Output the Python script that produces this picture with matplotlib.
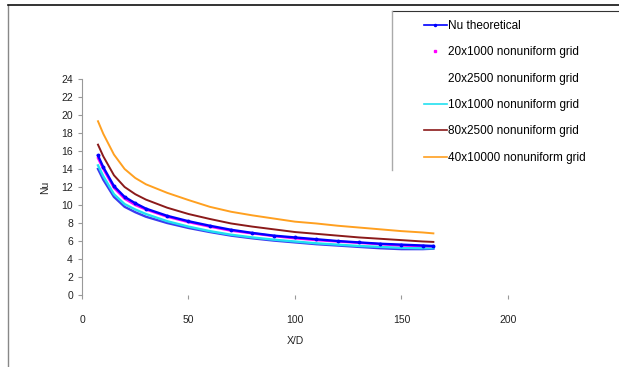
import matplotlib
matplotlib.use("Agg")
import matplotlib.pyplot as plt
from matplotlib.lines import Line2D

plt.rcParams['font.family'] = ['Liberation Sans', 'DejaVu Sans']

x_d = [7.5, 10, 15, 20, 25, 30, 40, 50, 60, 70, 80, 90, 100, 110, 120, 130, 140, 150, 160, 165]

nu_theoretical = [15.5, 14.2, 12.1, 10.9, 10.2, 9.6, 8.8, 8.2, 7.7, 7.25, 6.9, 6.6, 6.4, 6.2, 6.0, 5.85, 5.7, 5.6, 5.5, 5.45]
grid_20x1000 = [15.2, 14.0, 11.9, 10.7, 10.0, 9.5, 8.7, 8.1, 7.6, 7.15, 6.85, 6.55, 6.3, 6.1, 5.95, 5.8, 5.65, 5.5, 5.45, 5.4]
grid_20x2500 = [14.0, 12.8, 10.9, 9.8, 9.2, 8.7, 8.0, 7.45, 7.0, 6.6, 6.3, 6.05, 5.85, 5.65, 5.5, 5.35, 5.2, 5.1, 5.1, 5.15]
grid_10x1000 = [14.4, 13.2, 11.2, 10.1, 9.5, 9.0, 8.2, 7.6, 7.1, 6.7, 6.4, 6.15, 5.95, 5.75, 5.6, 5.45, 5.35, 5.25, 5.2, 5.2]
grid_80x2500 = [16.7, 15.4, 13.3, 12.0, 11.2, 10.6, 9.7, 9.0, 8.45, 7.95, 7.6, 7.3, 7.0, 6.8, 6.6, 6.4, 6.25, 6.1, 5.95, 5.9]
grid_40x10000 = [19.3, 17.9, 15.6, 14.0, 13.0, 12.3, 11.35, 10.55, 9.8, 9.25, 8.85, 8.5, 8.15, 7.95, 7.7, 7.5, 7.3, 7.1, 6.95, 6.85]

labels = ["Nu theoretical", "20x1000 nonuniform grid", "20x2500 nonuniform grid",
          "10x1000 nonuniform grid", "80x2500 nonuniform grid", "40x10000 nonuniform grid"]
x_ticks = [0, 50, 100, 150, 200]
y_ticks = list(range(0, 25, 2))

fig = plt.figure(figsize=(6.19, 3.67), dpi=100)
ax = fig.add_axes([0.1325, 0.196, 0.688, 0.589])

ax.plot(x_d, grid_20x2500, color='#3b3bf0', lw=1.7)
ax.plot(x_d, grid_10x1000, color='#22e0f0', lw=1.7)
ax.plot(x_d, grid_20x1000, color='#ff00ff', lw=1.7)
ax.plot(x_d, nu_theoretical, color='#0000ff', lw=1.7, marker='o', ms=1.8)
ax.plot(x_d, grid_80x2500, color='#8b1a1a', lw=1.4)
ax.plot(x_d, grid_40x10000, color='#ffa020', lw=1.4)

ax.set_xlim(0, 200)
ax.set_ylim(0, 24)
ax.set_xticks(x_ticks)
ax.set_yticks(y_ticks)
for s in ['top', 'right', 'bottom']:
    ax.spines[s].set_visible(False)
ax.spines['left'].set_color('#999999')
ax.tick_params(axis='both', labelsize=7.5, colors='#999999', labelcolor='#222222', length=3, width=0.8)
ax.tick_params(axis='x', pad=11)
ax.set_xlabel("X/D", fontsize=7.5, color='#222222', labelpad=8)
ax.set_ylabel("Nu", fontsize=7.5, color='#222222', labelpad=8)

# legend
handles = [
    Line2D([], [], color='#0000ff', lw=1.2, marker='o', ms=1.5),
    Line2D([], [], color='#ff00ff', lw=0, marker='s', ms=1.5),
    Line2D([], [], color='white', lw=0),
    Line2D([], [], color='#22e0f0', lw=1.2),
    Line2D([], [], color='#8b1a1a', lw=1.2),
    Line2D([], [], color='#ffa020', lw=1.2),
]
leg = fig.legend(handles, labels, loc='upper left', bbox_to_anchor=(0.668, 0.975),
                 frameon=False, fontsize=8.5, labelspacing=1.22, handlelength=1.9,
                 handletextpad=0.15)

# outer borders
fig.add_artist(Line2D([8/619, 8/619], [0, 1 - 5/367], color='#888888', lw=1.0, transform=fig.transFigure))
fig.add_artist(Line2D([8/619, 1], [1 - 5/367, 1 - 5/367], color='#111111', lw=1.2, transform=fig.transFigure))
fig.add_artist(Line2D([392/619, 1], [1 - 11/367, 1 - 11/367], color='#333333', lw=0.8, transform=fig.transFigure))
fig.add_artist(Line2D([392/619, 392/619], [1 - 170/367, 1 - 11/367], color='#aaaaaa', lw=1.0, transform=fig.transFigure))

fig.savefig("out.png", dpi=100)
